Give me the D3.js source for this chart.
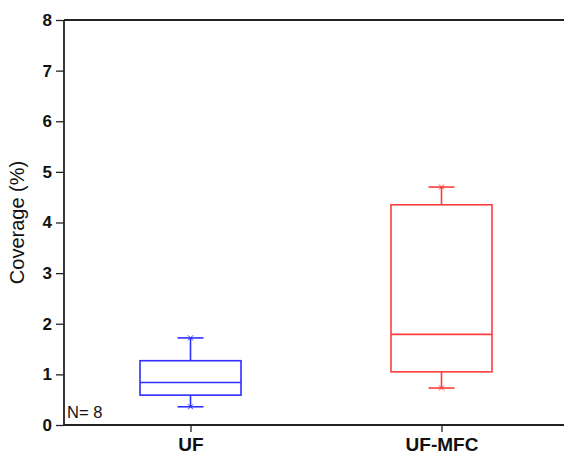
<!DOCTYPE html>
<html><head><meta charset="utf-8">
<script src="https://cdn.jsdelivr.net/npm/d3@7"></script>
<style>body{margin:0;background:#fff;}svg{display:block;font-family:Arial,"Liberation Sans",sans-serif;}</style>
</head><body>
<svg id="c" width="564" height="455"></svg>
<script>
const categories = ["UF", "UF-MFC"];
const whiskerLow = [0.36, 0.73];
const q1Values = [0.59, 1.05];
const medianValues = [0.84, 1.79];
const q3Values = [1.27, 4.35];
const whiskerHigh = [1.72, 4.70];
const colors = ["#2f2fff", "#ff3c3c"];
const yTicks = [0, 1, 2, 3, 4, 5, 6, 7, 8];
const yLabel = "Coverage (%)";
const nLabel = "N= 8";

(function () {
const svg = d3.select("#c");
const mLeft = 64, mRight = 564, mTop = 20, mBottom = 425;
const x = d3.scalePoint().domain(categories).range([65, 567]).padding(0.5);
const y = d3.scaleLinear().domain([0, 8]).range([mBottom, mTop]);
const boxW = 101, capW = 26;
const axisColor = "#222";

// top frame line
svg.append("line").attr("x1", mLeft).attr("x2", mRight).attr("y1", mTop).attr("y2", mTop)
  .attr("stroke", axisColor).attr("stroke-width", 1.8);

// y axis
const yAxis = svg.append("g").attr("transform", `translate(${mLeft},0)`)
  .call(d3.axisLeft(y).tickValues(yTicks).tickFormat(d3.format("d")).tickSize(8).tickPadding(4));
yAxis.select(".domain").attr("stroke", axisColor).attr("stroke-width", 1.8).attr("d", `M0,${mTop}V${mBottom}`);
yAxis.selectAll(".tick line").attr("stroke", axisColor).attr("stroke-width", 1.3);
yAxis.selectAll(".tick text").attr("fill", "#111").style("font-size", "17px").style("font-weight", "bold")
  .style("font-family", "Arial, 'Liberation Sans', sans-serif");

// x axis
const xAxis = svg.append("g").attr("transform", `translate(0,${mBottom})`)
  .call(d3.axisBottom(x).tickSize(7).tickPadding(6));
xAxis.select(".domain").attr("stroke", axisColor).attr("stroke-width", 1.8).attr("d", `M${mLeft},0H${mRight}`);
xAxis.selectAll(".tick line").attr("stroke", axisColor).attr("stroke-width", 1.3);
xAxis.selectAll(".tick text").attr("fill", "#111").style("font-size", "19px").style("font-weight", "bold")
  .style("font-family", "Arial, 'Liberation Sans', sans-serif");

// y label
svg.append("text").attr("transform", `translate(24,${(mTop + mBottom) / 2}) rotate(-90)`)
  .attr("text-anchor", "middle").style("font-size", "20px").attr("fill", "#111").text(yLabel);

// N label
svg.append("text").attr("x", 67).attr("y", 418).style("font-size", "16.5px").attr("fill", "#111").text(nLabel);

// boxes
categories.forEach((c, i) => {
  const cx = x(c), col = colors[i];
  const g = svg.append("g").attr("stroke", col).attr("stroke-width", 1.6).attr("fill", "none");
  g.append("line").attr("x1", cx).attr("x2", cx).attr("y1", y(q3Values[i])).attr("y2", y(whiskerHigh[i]));
  g.append("line").attr("x1", cx).attr("x2", cx).attr("y1", y(q1Values[i])).attr("y2", y(whiskerLow[i]));
  [whiskerHigh[i], whiskerLow[i]].forEach(v => {
    g.append("line").attr("x1", cx - capW / 2).attr("x2", cx + capW / 2).attr("y1", y(v)).attr("y2", y(v));
    const s = 2.5;
    g.append("path").attr("stroke-width", 1).attr("d",
      `M${cx - s},${y(v) - s}L${cx + s},${y(v) + s}M${cx - s},${y(v) + s}L${cx + s},${y(v) - s}`);
  });
  g.append("rect").attr("x", cx - boxW / 2).attr("width", boxW)
    .attr("y", y(q3Values[i])).attr("height", y(q1Values[i]) - y(q3Values[i]));
  g.append("line").attr("x1", cx - boxW / 2).attr("x2", cx + boxW / 2)
    .attr("y1", y(medianValues[i])).attr("y2", y(medianValues[i]));
});
})();
</script>
</body></html>
